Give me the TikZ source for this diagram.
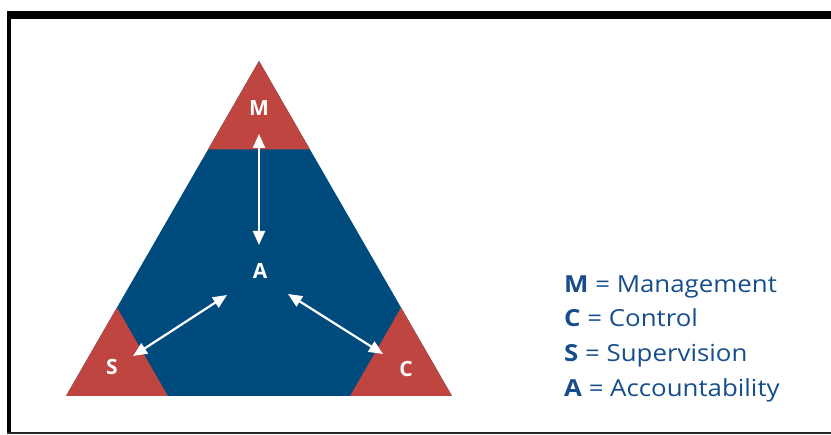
\documentclass[tikz,border=0pt]{standalone}
\usepackage{fontspec}
\setsansfont{Open Sans}
\newfontfamily\keyfont{Open Sans}[FakeStretch=1.1]
\usetikzlibrary{arrows.meta,calc}
\definecolor{tri}{RGB}{0,75,125}
\definecolor{corner}{RGB}{190,69,64}
\definecolor{leg}{RGB}{22,78,140}

\begin{document}
\begin{tikzpicture}[x=1pt,y=-1pt,
    lbl/.style={text=white,inner sep=0pt,
                font=\sffamily\bfseries\fontsize{21}{21}\selectfont},
    key/.style={text=leg,anchor=base west,inner sep=0pt,
                font=\keyfont\fontsize{23.5}{23.5}\selectfont},
    link/.style={white,line width=2.2pt,
                 {Triangle[length=14pt,width=12pt]}-{Triangle[length=14pt,width=12pt]}}]
    \useasboundingbox (0,0) rectangle (831,435);
    % frame
    \fill (7,11) rectangle (831,19);
    \fill (7,11) rectangle (11,434);
    \fill[black!85] (7,432) rectangle (831,434);
    % triangle with its three corners
    \coordinate (top) at (259,61);
    \coordinate (bl)  at (66,396);
    \coordinate (br)  at (452,396);
    \fill[tri] (top)--(bl)--(br)--cycle;
    \fill[corner] (top)--($(top)!0.264!(bl)$)--($(top)!0.264!(br)$)--cycle;
    \fill[corner] (bl)--($(bl)!0.264!(top)$)--($(bl)!0.264!(br)$)--cycle;
    \fill[corner] (br)--($(br)!0.264!(top)$)--($(br)!0.264!(bl)$)--cycle;
    % letters
    \node[lbl] (m) at (259,108) {M};
    \node[lbl] (a) at (260,271) {A};
    \node[lbl] (s) at (112,367) {S};
    \node[lbl] (c) at (406,369) {C};
    % arrow ends
    \coordinate (m1) at (259,134);
    \coordinate (m2) at (259,245);
    \coordinate (s1) at (227,295);
    \coordinate (s2) at (133,356);
    \coordinate (c1) at (288,294);
    \coordinate (c2) at (383,354);
    \foreach \a/\b in {m1/m2,s1/s2,c1/c2}
      \draw[link] (\a)--(\b);
    % legend
    \node[key] (km) at (564,293) {\textbf{M} = Management};
    \node[key] (kc) at (564,327) {\textbf{C} = Control};
    \node[key] (ks) at (564,362) {\textbf{S} = Supervision};
    \node[key] (ka) at (564,397) {\textbf{A} = Accountability};
\end{tikzpicture}
\end{document}
